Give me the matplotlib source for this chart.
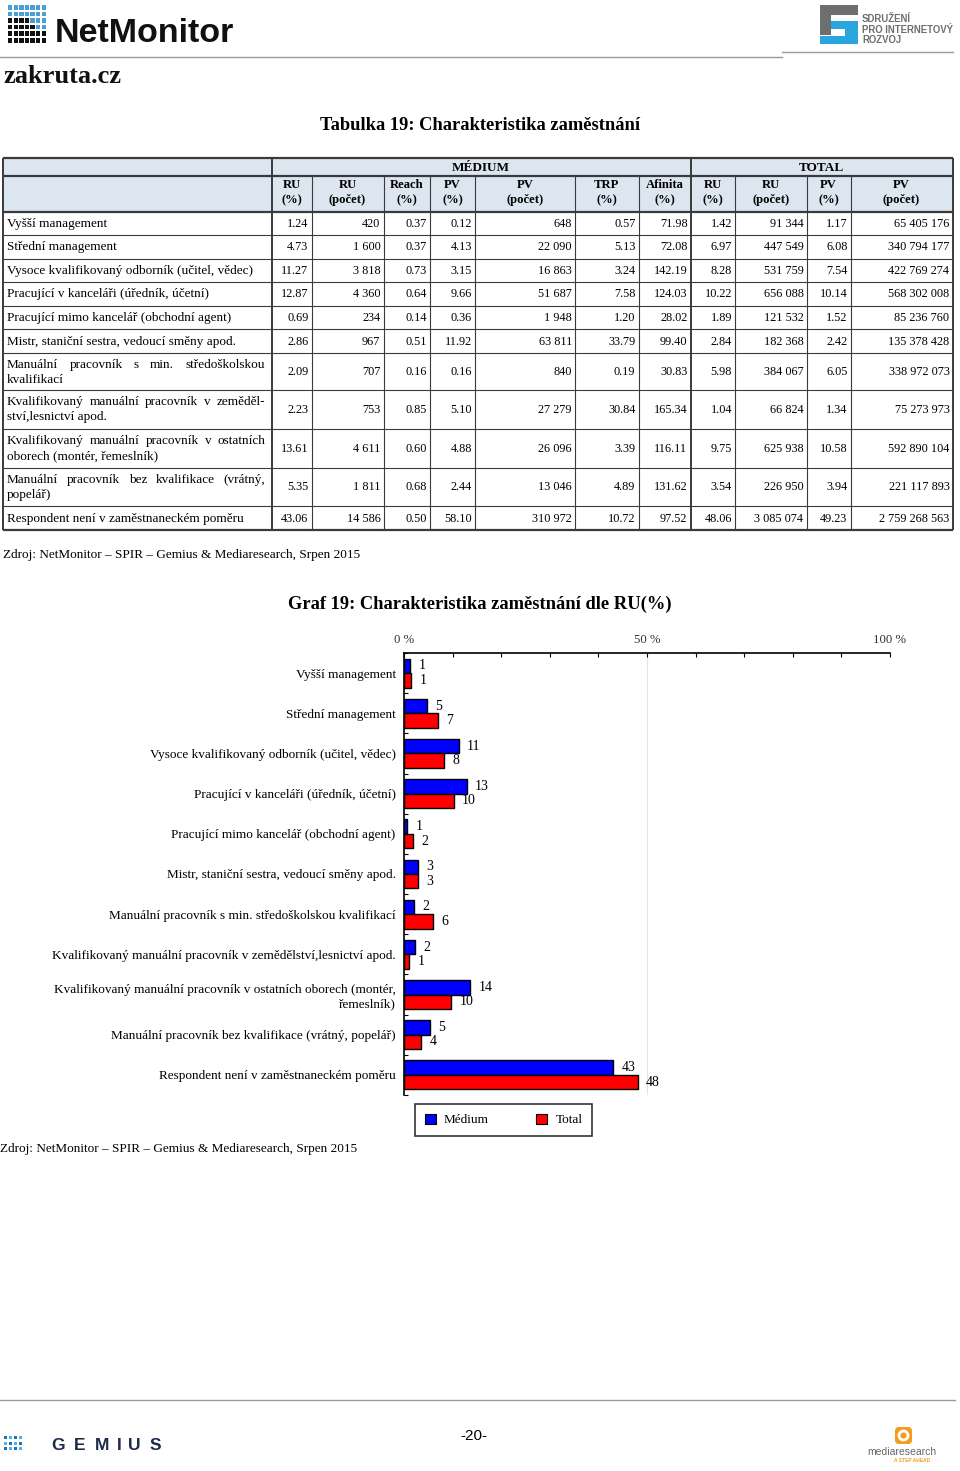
import numpy as np
import matplotlib
matplotlib.use('Agg')
import matplotlib.pyplot as plt
from matplotlib.patches import Rectangle, FancyBboxPatch, Circle

plt.rcParams['font.family'] = ['Liberation Serif', 'DejaVu Serif']

# ---- data ----
row_labels = ['Vyšší management', 'Střední management',
              'Vysoce kvalifikovaný odborník (učitel, vědec)',
              'Pracující v kanceláři (úředník, účetní)',
              'Pracující mimo kancelář (obchodní agent)',
              'Mistr, staniční sestra, vedoucí směny apod.',
              'Manuální pracovník s min. středoškolskou kvalifikací',
              'Kvalifikovaný manuální pracovník v zemědělství,lesnictví apod.',
              'Kvalifikovaný manuální pracovník v ostatních oborech (montér, řemeslník)',
              'Manuální pracovník bez kvalifikace (vrátný, popelář)',
              'Respondent není v zaměstnaneckém poměru']
# how the long labels wrap inside the table (first line is justified)
table_label_lines = {6: ['Manuální pracovník s min. středoškolskou', 'kvalifikací'],
                     7: ['Kvalifikovaný manuální pracovník v zeměděl-', 'ství,lesnictví apod.'],
                     8: ['Kvalifikovaný manuální pracovník v ostatních', 'oborech (montér, řemeslník)'],
                     9: ['Manuální pracovník bez kvalifikace (vrátný,', 'popelář)']}

med_ru_pct = [1.24, 4.73, 11.27, 12.87, 0.69, 2.86, 2.09, 2.23, 13.61, 5.35, 43.06]
med_ru_cnt = [420, 1600, 3818, 4360, 234, 967, 707, 753, 4611, 1811, 14586]
med_reach = [0.37, 0.37, 0.73, 0.64, 0.14, 0.51, 0.16, 0.85, 0.60, 0.68, 0.50]
med_pv_pct = [0.12, 4.13, 3.15, 9.66, 0.36, 11.92, 0.16, 5.10, 4.88, 2.44, 58.10]
med_pv_cnt = [648, 22090, 16863, 51687, 1948, 63811, 840, 27279, 26096, 13046, 310972]
med_trp = [0.57, 5.13, 3.24, 7.58, 1.20, 33.79, 0.19, 30.84, 3.39, 4.89, 10.72]
med_afin = [71.98, 72.08, 142.19, 124.03, 28.02, 99.40, 30.83, 165.34, 116.11, 131.62, 97.52]
tot_ru_pct = [1.42, 6.97, 8.28, 10.22, 1.89, 2.84, 5.98, 1.04, 9.75, 3.54, 48.06]
tot_ru_cnt = [91344, 447549, 531759, 656088, 121532, 182368, 384067, 66824, 625938, 226950, 3085074]
tot_pv_pct = [1.17, 6.08, 7.54, 10.14, 1.52, 2.42, 6.05, 1.34, 10.58, 3.94, 49.23]
tot_pv_cnt = [65405176, 340794177, 422769274, 568302008, 85236760, 135378428,
              338972073, 75273973, 592890104, 221117893, 2759268563]

col_heads = [('RU', '(%)'), ('RU', '(počet)'), ('Reach', '(%)'), ('PV', '(%)'),
             ('PV', '(počet)'), ('TRP', '(%)'), ('Afinita', '(%)'),
             ('RU', '(%)'), ('RU', '(počet)'), ('PV', '(%)'), ('PV', '(počet)')]

chart_labels = list(row_labels)
chart_labels[8] = 'Kvalifikovaný manuální pracovník v ostatních oborech (montér,\nřemeslník)'
xtick_vals = [0, 50, 100]
xtick_labels = ['0 %', '50 %', '100 %']

source = 'Zdroj: NetMonitor – SPIR – Gemius & Mediaresearch, Srpen 2015'


def fmt_int(v):
    return f'{v:,}'.replace(',', ' ')


def fmt_dec(v):
    return f'{v:.2f}'


W, H = 960, 1471
fig = plt.figure(figsize=(W / 100, H / 100), dpi=100)
bg = fig.add_axes([0, 0, 1, 1])
bg.set_xlim(0, W)
bg.set_ylim(H, 0)
bg.axis('off')

fs = 9.5     # text
fn = 8.8     # numbers in table

# ---- header logos ----
nm_blue = '#4a9fd4'
for r in range(6):
    for c in range(7):
        col = '#111111'
        if r < 2 or (r == 2 and c >= 4) or (r == 3 and c >= 5):
            col = nm_blue
        bg.add_patch(Rectangle((8 + c * 5.6, 5 + r * 6.6), 4.4, 4.6, fc=col, ec='none'))
bg.text(55, 33, 'NetMonitor', fontsize=24.5, fontweight='bold', family='Liberation Sans',
        va='center', ha='left', color='#111111')
bg.plot([0, 782], [57, 57], color='#9a9a9a', lw=1)
bg.plot([782, 953], [52, 52], color='#9a9a9a', lw=1)

# SPIR logo
bg.add_patch(Rectangle((820, 5), 38, 10, fc='#6d6e70', ec='none'))
bg.add_patch(Rectangle((820, 5), 11, 30, fc='#6d6e70', ec='none'))
bg.add_patch(Rectangle((831, 21), 22, 8, fc='#2aa6df', ec='none'))
bg.add_patch(Rectangle((845, 21), 13, 23, fc='#2aa6df', ec='none'))
bg.add_patch(Rectangle((820, 36), 38, 8, fc='#2aa6df', ec='none'))
for i, s in enumerate(['SDRUŽENÍ', 'PRO INTERNETOVÝ', 'ROZVOJ']):
    bg.text(862, 19 + i * 10.5, s, fontsize=6.9, fontweight='bold', family='Liberation Sans',
            color='#6d6e70', va='center', ha='left')

bg.text(3, 76, 'zakruta.cz', fontsize=19, fontweight='bold', va='center', ha='left', color='#111111')

# ---- table ----
bg.text(480, 125, 'Tabulka 19: Charakteristika zaměstnání', fontsize=13.3, fontweight='bold',
        ha='center', va='center')

cols = [3, 271.5, 311.5, 383.5, 430, 475, 575, 638.5, 690.5, 735, 806.5, 850.5, 952.5]
hl = [158, 176, 211.5, 235, 258.5, 282, 305.5, 329, 353, 390, 428.5, 467.5, 506, 530]
bg.add_patch(Rectangle((cols[0], hl[0]), cols[-1] - cols[0], hl[2] - hl[0], fc='#dce6f1', ec='none'))
lc = '#3a3a3a'
for k, y in enumerate(hl):
    lw = 1.6 if k in (0, 1, 2, len(hl) - 1) else 0.8
    bg.plot([cols[0], cols[-1]], [y, y], color=lc, lw=lw, solid_capstyle='butt')
for k, x in enumerate(cols):
    if k in (0, 1, 8, len(cols) - 1):
        bg.plot([x, x], [hl[0], hl[-1]], color=lc, lw=1.4, solid_capstyle='butt')
    else:
        bg.plot([x, x], [hl[1], hl[-1]], color=lc, lw=0.8, solid_capstyle='butt')

bg.text((cols[1] + cols[8]) / 2, (hl[0] + hl[1]) / 2 + 1, 'MÉDIUM', fontsize=fs, fontweight='bold',
        ha='center', va='center')
bg.text((cols[8] + cols[12]) / 2, (hl[0] + hl[1]) / 2 + 1, 'TOTAL', fontsize=fs, fontweight='bold',
        ha='center', va='center')
for j, (a, b) in enumerate(col_heads):
    xc = (cols[j + 1] + cols[j + 2]) / 2
    bg.text(xc, 185, a, fontsize=fn + 0.3, fontweight='bold', ha='center', va='center')
    bg.text(xc, 200, b, fontsize=fn + 0.3, fontweight='bold', ha='center', va='center')

columns = [(med_ru_pct, fmt_dec), (med_ru_cnt, fmt_int), (med_reach, fmt_dec), (med_pv_pct, fmt_dec),
           (med_pv_cnt, fmt_int), (med_trp, fmt_dec), (med_afin, fmt_dec), (tot_ru_pct, fmt_dec),
           (tot_ru_cnt, fmt_int), (tot_pv_pct, fmt_dec), (tot_pv_cnt, fmt_int)]

justify_jobs = []
for i, lab in enumerate(row_labels):
    y0, y1 = hl[i + 2], hl[i + 3]
    yc = (y0 + y1) / 2 + 0.5
    if i in table_label_lines:
        first, second = table_label_lines[i]
        words = [bg.text(0, yc - 7.5, w, fontsize=fs, ha='left', va='center') for w in first.split()]
        justify_jobs.append((words, 7, 265))
        bg.text(7, yc + 7.5, second, fontsize=fs, ha='left', va='center')
    else:
        bg.text(7, yc, lab, fontsize=fs, ha='left', va='center')
    for j, (vals, f) in enumerate(columns):
        bg.text(cols[j + 2] - 3, yc, f(vals[i]), fontsize=fn, ha='right', va='center')

bg.text(3, 555, source, fontsize=fs, ha='left', va='center')

# ---- chart ----
bg.text(480, 604, 'Graf 19: Charakteristika zaměstnání dle RU(%)', fontsize=13.3, fontweight='bold',
        ha='center', va='center')

ax_l, ax_r, ax_t, ax_b = 404, 890, 653, 1095
ax = fig.add_axes([ax_l / W, 1 - ax_b / H, (ax_r - ax_l) / W, (ax_b - ax_t) / H])
ax.set_facecolor('none')
y = np.arange(len(chart_labels))
bh = 0.36
ax.barh(y - 0.18, med_ru_pct, height=bh, color='#0000ff', edgecolor='black', lw=1, label='Médium', zorder=3)
ax.barh(y + 0.18, tot_ru_pct, height=bh, color='#ff0000', edgecolor='black', lw=1, label='Total', zorder=3)
for yy, v in zip(y, med_ru_pct):
    ax.annotate(f'{v:.0f}', (v, yy - 0.18), xytext=(6, 0), textcoords='offset points',
                ha='left', va='center', fontsize=10)
for yy, v in zip(y, tot_ru_pct):
    ax.annotate(f'{v:.0f}', (v, yy + 0.18), xytext=(6, 0), textcoords='offset points',
                ha='left', va='center', fontsize=10)

ax.set_xlim(0, 100)
ax.set_ylim(len(chart_labels) - 0.5, -0.5)
ax.xaxis.tick_top()
ax.set_xticks(xtick_vals)
ax.set_xticklabels(xtick_labels, fontsize=fn + 0.4, color='#333333')
ax.set_xticks(np.arange(0, 101, 10), minor=True)
ax.tick_params(axis='x', which='both', direction='in', length=3, width=0.8, pad=5, top=True, bottom=False)
ax.set_yticks(y)
ax.set_yticklabels(chart_labels, fontsize=fs)
ax.set_yticks(np.arange(-0.5, len(chart_labels), 1), minor=True)
ax.tick_params(axis='y', which='major', length=0, pad=6)
ax.tick_params(axis='y', which='minor', direction='in', length=3, width=0.8)
for g in (50, 100):
    ax.axvline(g, color='#e4e4e4', lw=0.8, zorder=0)
ax.spines['right'].set_visible(False)
ax.spines['bottom'].set_visible(False)
ax.spines['top'].set_linewidth(1.2)
ax.spines['left'].set_linewidth(1.2)

leg = ax.legend(loc='center', bbox_to_anchor=(503.5 / W, 1 - 1120 / H), bbox_transform=fig.transFigure,
                ncol=2, fontsize=fs, frameon=True, fancybox=False, edgecolor='black',
                handlelength=0.85, handleheight=0.85, columnspacing=3.6, handletextpad=0.6,
                borderpad=0.7, borderaxespad=0)
leg.get_frame().set_linewidth(1.2)
for p in leg.get_patches():
    p.set_linewidth(0.8)

bg.text(0, 1149, source, fontsize=fs, ha='left', va='center')

# ---- footer ----
bg.plot([0, 955], [1400, 1400], color='#9a9a9a', lw=1)
for r in range(3):
    for c in range(4):
        col = '#1f6fb5' if (r + c) % 2 == 0 else '#4fb3e8'
        bg.add_patch(Rectangle((4 + c * 5, 1436 + r * 5.5), 3, 3, fc=col, ec='none'))
for ch, xx in zip('GEMIUS', [58, 80, 102, 119, 134, 155]):
    bg.text(xx, 1445, ch, fontsize=12.5, fontweight='bold', family='Liberation Sans',
            color='#1e2a4a', ha='center', va='center')
bg.text(474, 1436, '-20-', fontsize=11, family='Liberation Sans', ha='center', va='center')
bg.add_patch(FancyBboxPatch((895, 1427), 17, 17, boxstyle='round,pad=0,rounding_size=4',
                            fc='#f39c1f', ec='none'))
bg.add_patch(Circle((903.5, 1435.5), 4.5, fc='none', ec='white', lw=2))
bg.text(902, 1452, 'mediaresearch', fontsize=7.5, family='Liberation Sans', color='#666666',
        ha='center', va='center')
bg.text(912, 1461, 'A STEP AHEAD', fontsize=3.5, fontweight='bold', family='Liberation Sans',
        color='#f39c1f', ha='center', va='center')

# justify the wrapped table labels
fig.canvas.draw()
rend = fig.canvas.get_renderer()
for words, x0, x1 in justify_jobs:
    widths = [t.get_window_extent(rend).width for t in words]
    gap = (x1 - x0 - sum(widths)) / (len(words) - 1)
    x = x0
    for t, w in zip(words, widths):
        t.set_x(x)
        x += w + gap

fig.savefig('out.png', dpi=100)
